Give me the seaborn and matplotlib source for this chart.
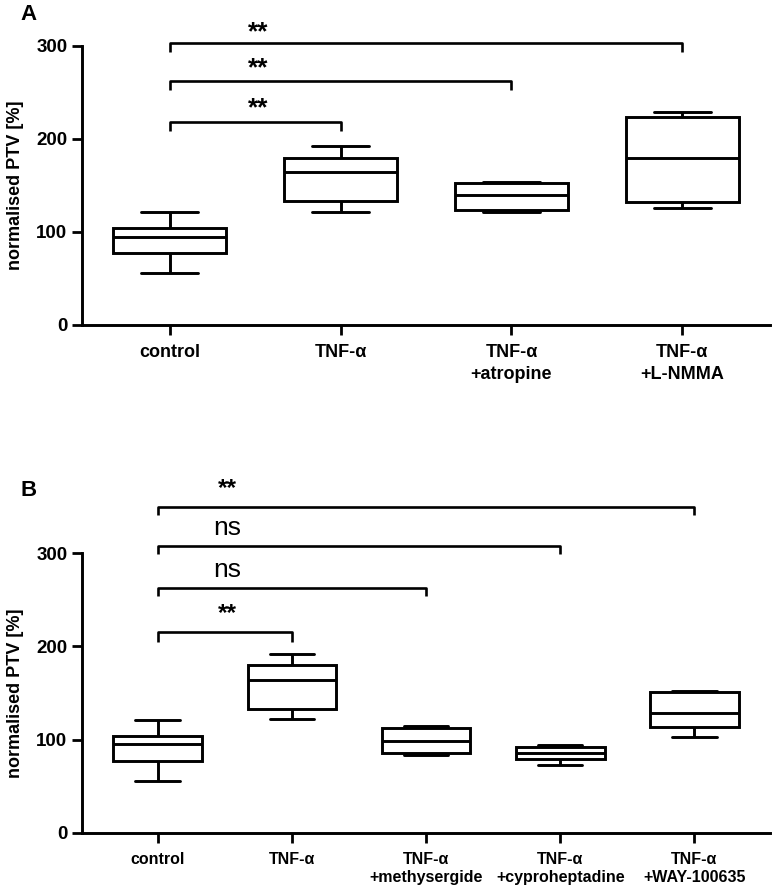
import pandas as pd
import seaborn as sns
import matplotlib.pyplot as plt

sns.set_style("ticks")
plt.rcParams['font.family'] = ['Liberation Sans', 'DejaVu Sans']
plt.rcParams['font.weight'] = 'bold'
plt.rcParams['axes.labelweight'] = 'bold'
for key in ['text.color', 'axes.labelcolor', 'xtick.color', 'ytick.color', 'axes.edgecolor']:
    plt.rcParams[key] = 'black'

# five-number summaries: min, q1, median, q3, max
groups_a = ["control", "TNF-α", "TNF-α\n+atropine", "TNF-α\n+L-NMMA"]
stats_a = [
    [56, 77, 95, 104, 121],
    [122, 133, 164, 180, 192],
    [122, 124, 140, 153, 154],
    [126, 132, 180, 224, 229],
]

groups_b = ["control", "TNF-α", "TNF-α\n+methysergide", "TNF-α\n+cyproheptadine", "TNF-α\n+WAY-100635"]
stats_b = [
    [56, 77, 95, 104, 121],
    [122, 133, 164, 180, 192],
    [83, 86, 98, 112, 115],
    [73, 79, 86, 92, 94],
    [103, 114, 129, 151, 152],
]

# significance brackets: (left group, right group), bracket height, drop end, label, label baseline
pairs_a = [(0, 1), (0, 2), (0, 3)]
bar_y_a = [218, 262, 303]
drop_y_a = [209, 253, 293]
text_a = ["**", "**", "**"]
text_y_a = [225, 269, 307]

pairs_b = [(0, 1), (0, 2), (0, 3), (0, 4)]
bar_y_b = [215, 263, 308, 350]
drop_y_b = [205, 254, 299, 341]
text_b = ["**", "ns", "ns", "**"]
text_y_b = [228, 275, 320, 363]


def long_form(groups, stats):
    rows = []
    for g, s in zip(groups, stats):
        for v in s:
            rows.append({"group": g, "value": v})
    return pd.DataFrame(rows)


def draw_panel(ax, groups, stats, pairs, bar_y, drop_y, texts, text_y, xfs, star_fs, lsp):
    df = long_form(groups, stats)
    sns.boxplot(data=df, x="group", y="value", order=groups, whis=(0, 100),
                width=0.66, color="white", linecolor="black", linewidth=2.1,
                fliersize=0, ax=ax)
    ax.set_ylim(0, 300)
    ax.set_yticks([0, 100, 200, 300])
    ax.set_xlabel("")
    ax.set_ylabel("normalised PTV [%]", fontsize=13, labelpad=9)
    ax.tick_params(axis='both', width=2, length=7, color='black')
    ax.tick_params(axis='y', labelsize=13.5)
    ax.tick_params(axis='x', labelsize=xfs, pad=7)
    for lab in ax.get_xticklabels():
        lab.set_linespacing(lsp)
    for s in ["left", "bottom"]:
        ax.spines[s].set_linewidth(2.1)
    sns.despine(ax=ax)
    for (g1, g2), y, yd, t, ty in zip(pairs, bar_y, drop_y, texts, text_y):
        ax.plot([g1, g1, g2, g2], [yd, y, y, yd], color="black", lw=1.9,
                clip_on=False, solid_capstyle='butt')
        if t == "ns":
            ax.text(0.52, ty, t, ha='center', va='baseline', fontsize=19,
                    fontweight='normal', family=['Liberation Sans Narrow', 'Liberation Sans'],
                    clip_on=False)
        else:
            ax.text(0.52, ty, t, ha='center', va='baseline', fontsize=star_fs,
                    fontweight='bold', clip_on=False)


fig = plt.figure(figsize=(7.76, 8.93), dpi=100)
ax1 = fig.add_axes([0.1057, 0.6361, 0.8866, 0.3124])
ax2 = fig.add_axes([0.1057, 0.0675, 0.8866, 0.3129])

draw_panel(ax1, groups_a, stats_a, pairs_a, bar_y_a, drop_y_a, text_a, text_y_a, 13, 19, 1.35)
draw_panel(ax2, groups_b, stats_b, pairs_b, bar_y_b, drop_y_b, text_b, text_y_b, 11.5, 17.5, 1.2)

fig.text(20 / 776, 1 - 4 / 893, "A", fontsize=16, fontweight='bold', va='top', ha='left')
fig.text(21 / 776, 1 - 480 / 893, "B", fontsize=16, fontweight='bold', va='top', ha='left')

fig.savefig("out.png", dpi=100)
